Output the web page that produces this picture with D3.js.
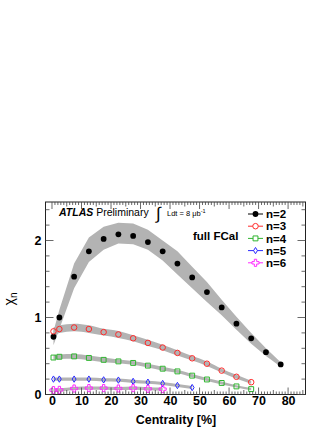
<!DOCTYPE html>
<html>
<head>
<meta charset="utf-8">
<script src="https://cdn.jsdelivr.net/npm/d3@7"></script>
<style>
  body { margin: 0; background: #fff; }
  svg text { font-family: "Liberation Sans", Arial, sans-serif; }
</style>
</head>
<body>
<div id="wrapper"></div>
<script>
// centrality bin centres (%)
const centrality = [0.5, 2.5, 7.5, 12.5, 17.5, 22.5, 27.5, 32.5, 37.5, 42.5, 47.5, 52.5, 57.5, 62.5, 67.5, 72.5, 77.5]

// chi_n values
const chi2 = [0.75, 1.0, 1.53, 1.86, 2.02, 2.08, 2.06, 1.98, 1.86, 1.70, 1.52, 1.33, 1.13, 0.92, 0.73, 0.55, 0.39]
const chi2Low = [0.64, 0.85, 1.38, 1.72, 1.88, 1.96, 1.95, 1.88, 1.74, 1.56, 1.38, 1.20, 1.03, 0.84, 0.66, 0.50, 0.36]
const chi2High = [0.82, 1.10, 1.70, 2.04, 2.18, 2.23, 2.22, 2.14, 2.00, 1.86, 1.66, 1.46, 1.23, 1.01, 0.80, 0.60, 0.42]

const chi3 = [0.82, 0.85, 0.87, 0.85, 0.81, 0.78, 0.73, 0.67, 0.61, 0.54, 0.47, 0.40, 0.31, 0.23, 0.16]
const chi3Sys = [0.05, 0.05, 0.05, 0.05, 0.045, 0.045, 0.04, 0.04, 0.035, 0.035, 0.03, 0.03, 0.025, 0.025, 0.02]

const chi4 = [0.48, 0.49, 0.495, 0.475, 0.45, 0.43, 0.41, 0.375, 0.335, 0.30, 0.245, 0.195, 0.15, 0.105, 0.07]
const chi4Sys = [0.03, 0.03, 0.03, 0.03, 0.03, 0.025, 0.025, 0.025, 0.025, 0.02, 0.02, 0.02, 0.02, 0.015, 0.015]

const chi5 = [0.20, 0.20, 0.20, 0.20, 0.19, 0.187, 0.17, 0.16, 0.143, 0.117, 0.09]
const chi5Sys = [0.02, 0.02, 0.02, 0.02, 0.02, 0.02, 0.02, 0.02, 0.02, 0.02, 0.02]

const chi6 = [0.057, 0.06, 0.078, 0.083, 0.083, 0.078, 0.083, 0.074, 0.07]
const chi6Sys = [0.02, 0.02, 0.02, 0.02, 0.02, 0.02, 0.02, 0.02, 0.02]

const xTicks = [0, 10, 20, 30, 40, 50, 60, 70, 80]
const yTicks = [0, 1, 2]
const legendLabels = ["n=2", "n=3", "n=4", "n=5", "n=6"]

function drawChart() {
  let dimensions = {
    width: 332,
    height: 430,
    margin: { top: 202, right: 26.5, bottom: 35.5, left: 45.5 }
  }
  dimensions.boundedWidth = dimensions.width - dimensions.margin.left - dimensions.margin.right
  dimensions.boundedHeight = dimensions.height - dimensions.margin.top - dimensions.margin.bottom

  const svg = d3.select("#wrapper").append("svg")
    .attr("width", dimensions.width)
    .attr("height", dimensions.height)

  const xScale = d3.scaleLinear()
    .domain([-2.2, 85.9])
    .range([0, dimensions.boundedWidth])

  const yScale = d3.scaleLinear()
    .domain([0, 2.5])
    .range([dimensions.boundedHeight, 0])

  const bounds = svg.append("g")
    .attr("transform", `translate(${dimensions.margin.left}, ${dimensions.margin.top})`)

  svg.append("clipPath").attr("id", "plotclip")
    .append("rect")
    .attr("width", dimensions.boundedWidth)
    .attr("height", dimensions.boundedHeight)

  const plot = bounds.append("g").attr("clip-path", "url(#plotclip)")

  // series definitions built from the arrays above
  const series = [
    { label: "n=2", values: chi2, low: chi2Low, high: chi2High, color: "#000", shape: "dot", curve: d3.curveLinear },
    { label: "n=3", values: chi3, sys: chi3Sys, color: "#ff2a2a", shape: "circle", curve: d3.curveMonotoneX },
    { label: "n=4", values: chi4, sys: chi4Sys, color: "#2fb52f", shape: "square", curve: d3.curveMonotoneX },
    { label: "n=5", values: chi5, sys: chi5Sys, color: "#2a2aff", shape: "diamond", curve: d3.curveMonotoneX },
    { label: "n=6", values: chi6, sys: chi6Sys, color: "#ff2aff", shape: "cross", curve: d3.curveMonotoneX }
  ]

  series.forEach(s => {
    s.points = s.values.map((v, i) => ({
      x: centrality[i],
      y: v,
      lo: s.low ? s.low[i] : v - s.sys[i],
      hi: s.high ? s.high[i] : v + s.sys[i]
    }))
  })

  // systematic bands
  const bandArea = curve => d3.area()
    .x(d => xScale(d.x))
    .y0(d => yScale(d.lo))
    .y1(d => yScale(d.hi))
    .curve(curve)

  plot.selectAll(".band")
    .data(series)
    .join("path")
    .attr("class", "band")
    .attr("d", s => bandArea(s.curve)(s.points))
    .attr("fill", "#b3b3b3")

  // markers
  const diamond = {
    draw(ctx, size) {
      const h = Math.sqrt(size) * 0.62
      const w = h * 0.6
      ctx.moveTo(0, -h); ctx.lineTo(w, 0); ctx.lineTo(0, h); ctx.lineTo(-w, 0); ctx.closePath()
    }
  }
  const symbolFor = {
    dot: d3.symbol(d3.symbolCircle, 26),
    circle: d3.symbol(d3.symbolCircle, 24),
    square: d3.symbol(d3.symbolSquare, 24),
    diamond: d3.symbol(diamond, 26),
    cross: d3.symbol(d3.symbolCross, 28)
  }

  function drawMarker(sel, s) {
    sel.attr("d", symbolFor[s.shape]())
      .attr("fill", s.shape === "dot" ? s.color : "none")
      .attr("stroke", s.shape === "dot" ? "none" : s.color)
      .attr("stroke-width", 1)
  }

  series.forEach(s => {
    bounds.append("g")
      .selectAll("path")
      .data(s.points)
      .join("path")
      .attr("transform", d => `translate(${xScale(d.x)}, ${yScale(d.y)})`)
      .call(drawMarker, s)
  })

  // frame
  bounds.append("rect")
    .attr("width", dimensions.boundedWidth)
    .attr("height", dimensions.boundedHeight)
    .attr("fill", "none")
    .attr("stroke", "#222")
    .attr("stroke-width", 1)

  // ticks (ROOT style, mirrored on all four sides)
  const xMinor = d3.range(0, 86, 1)
  const yMinor = d3.range(0, 2.51, 0.2)
  const tickColor = "#444"

  function xTickLen(v) { return v % 10 === 0 ? 7 : (v % 5 === 0 ? 4.5 : 3) }

  const xt = bounds.append("g")
  xt.selectAll(".xb").data(xMinor).join("line")
    .attr("x1", d => xScale(d)).attr("x2", d => xScale(d))
    .attr("y1", dimensions.boundedHeight).attr("y2", d => dimensions.boundedHeight - xTickLen(d))
    .attr("stroke", tickColor).attr("stroke-width", 0.8)
  xt.selectAll(".xt").data(xMinor).join("line")
    .attr("x1", d => xScale(d)).attr("x2", d => xScale(d))
    .attr("y1", 0).attr("y2", d => xTickLen(d))
    .attr("stroke", tickColor).attr("stroke-width", 0.8)

  const isMajorY = d => Math.abs(d - Math.round(d)) < 1e-6
  const yt = bounds.append("g")
  yt.selectAll(".yl").data(yMinor).join("line")
    .attr("x1", 0).attr("x2", d => isMajorY(d) ? 8 : 4)
    .attr("y1", d => yScale(d)).attr("y2", d => yScale(d))
    .attr("stroke", tickColor).attr("stroke-width", 0.8)
  yt.selectAll(".yr").data(yMinor).join("line")
    .attr("x1", dimensions.boundedWidth)
    .attr("x2", d => dimensions.boundedWidth - (isMajorY(d) ? 8 : 4))
    .attr("y1", d => yScale(d)).attr("y2", d => yScale(d))
    .attr("stroke", tickColor).attr("stroke-width", 0.8)

  // tick labels via d3 axes (tick lines hidden, drawn above)
  const xAxis = d3.axisBottom(xScale).tickValues(xTicks).tickSize(0).tickPadding(2)
  bounds.append("g")
    .attr("transform", `translate(0, ${dimensions.boundedHeight})`)
    .call(xAxis)
    .call(g => g.select(".domain").remove())
    .call(g => g.selectAll("text")
      .attr("font-family", "Liberation Sans, Arial, sans-serif")
      .attr("font-weight", "bold").attr("font-size", 12.5).attr("fill", "#000"))

  const yAxis = d3.axisLeft(yScale).tickValues(yTicks).tickFormat(d3.format("d")).tickSize(0).tickPadding(4)
  bounds.append("g")
    .call(yAxis)
    .call(g => g.select(".domain").remove())
    .call(g => g.selectAll("text")
      .attr("font-family", "Liberation Sans, Arial, sans-serif")
      .attr("font-weight", "bold").attr("font-size", 12.5).attr("fill", "#000"))

  // axis titles
  svg.append("text")
    .attr("x", 176)
    .attr("y", 424)
    .attr("text-anchor", "middle")
    .attr("font-weight", "bold")
    .attr("font-size", 12.5)
    .text("Centrality [%]")

  const yTitle = svg.append("text")
    .attr("transform", "translate(14, 299) rotate(-90)")
    .attr("text-anchor", "middle")
    .attr("font-size", 14)
  yTitle.append("tspan").text("χ")
  yTitle.append("tspan").attr("font-size", 10).attr("dy", 3).text("n")

  // ATLAS label
  const atlas = svg.append("text")
    .attr("x", 59)
    .attr("y", 216)
    .attr("font-size", 10.5)
  atlas.append("tspan").attr("font-weight", "bold").attr("font-style", "italic").text("ATLAS")
  atlas.append("tspan").text(" Preliminary")

  svg.append("text")
    .attr("x", 156)
    .attr("y", 219)
    .attr("font-family", "DejaVu Sans, sans-serif")
    .attr("font-size", 17)
    .text("∫")
  const lumi = svg.append("text")
    .attr("x", 167)
    .attr("y", 216)
    .attr("font-size", 7.5)
  lumi.append("tspan").text("Ldt = 8 μb")
  lumi.append("tspan").attr("font-size", 5.5).attr("dy", -3).text("-1")

  svg.append("text")
    .attr("x", 193)
    .attr("y", 240)
    .attr("font-weight", "bold")
    .attr("font-size", 11.5)
    .text("full FCal")

  // legend
  const legend = svg.append("g")
    .attr("transform", "translate(248, 214)")
  const legendItems = legend.selectAll("g")
    .data(series)
    .join("g")
    .attr("transform", (d, i) => `translate(0, ${i * 12.2})`)

  legendItems.append("line")
    .attr("x1", 0).attr("x2", 15)
    .attr("stroke", d => d.color)
    .attr("stroke-width", 1)
  legendItems.append("path")
    .attr("transform", "translate(7.5, 0)")
    .each(function (d) { d3.select(this).call(drawMarker, d) })
    .attr("fill", d => d.shape === "dot" ? d.color : "#fff")
  legendItems.append("text")
    .attr("x", 18)
    .attr("y", 4.2)
    .attr("font-weight", "bold")
    .attr("font-size", 11.5)
    .text((d, i) => legendLabels[i])
}
drawChart()
</script>
</body>
</html>
